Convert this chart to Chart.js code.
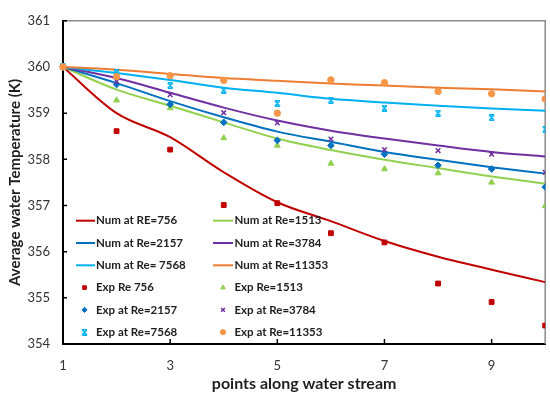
<!DOCTYPE html>
<html>
<head>
<meta charset="utf-8">
<script src="https://cdn.jsdelivr.net/npm/chart.js@4.4.0/dist/chart.umd.min.js"></script>
<style>
    html, body { margin: 0; padding: 0; background: #fff; }
    #wrap { width: 550px; height: 403px; }
</style>
</head>
<body>
<div id="wrap"><canvas id="tempChart" width="550" height="403"></canvas></div>
<script>
// points along the stream
const xPoints = [1, 2, 3, 4, 5, 6, 7, 8, 9, 10];
const xTickValues = [1, 3, 5, 7, 9];
const yTickValues = [354, 355, 356, 357, 358, 359, 360, 361];

// numerical results (K)
const numRe756 = [360, 359.00, 358.48, 357.72, 357.07, 356.66, 356.23, 355.89, 355.61, 355.34];
const numRe1513 = [360, 359.51, 359.16, 358.80, 358.45, 358.20, 357.99, 357.81, 357.63, 357.47];
const numRe2157 = [360, 359.65, 359.26, 358.91, 358.60, 358.38, 358.16, 357.99, 357.83, 357.69];
const numRe3784 = [360, 359.76, 359.44, 359.12, 358.84, 358.62, 358.45, 358.30, 358.16, 358.06];
const numRe7568 = [360, 359.87, 359.72, 359.55, 359.44, 359.31, 359.23, 359.16, 359.10, 359.05];
const numRe11353 = [360, 359.94, 359.85, 359.76, 359.70, 359.64, 359.60, 359.55, 359.52, 359.47];

// experimental results (K)
const expRe756 = [360, 358.61, 358.21, 357.01, 357.05, 356.40, 356.20, 355.31, 354.91, 354.40];
const expRe1513 = [360, 359.28, 359.11, 358.46, 358.30, 357.91, 357.79, 357.70, 357.50, 356.99];
const expRe2157 = [360, 359.62, 359.19, 358.80, 358.41, 358.30, 358.11, 357.87, 357.79, 357.40];
const expRe3784 = [360, 359.69, 359.40, 359.01, 358.79, 358.44, 358.21, 358.19, 358.11, 357.72];
const expRe7568 = [360, 359.87, 359.60, 359.50, 359.21, 359.28, 359.11, 359.00, 358.90, 358.65];
const expRe11353 = [360, 359.79, 359.81, 359.71, 359.00, 359.72, 359.66, 359.47, 359.42, 359.31];

const fontFamily = 'Lato, "Open Sans", sans-serif';

// excel style "x with bars" marker
function barredCross(size, color) {
    const c = document.createElement('canvas');
    c.width = size;
    c.height = size;
    const g = c.getContext('2d');
    g.strokeStyle = color;
    g.lineWidth = 1.4;
    g.beginPath();
    g.moveTo(1, 1); g.lineTo(size - 1, size - 1);
    g.moveTo(size - 1, 1); g.lineTo(1, size - 1);
    g.moveTo(1, 0.7); g.lineTo(size - 1, 0.7);
    g.moveTo(1, size - 0.7); g.lineTo(size - 1, size - 0.7);
    g.stroke();
    return c;
}

function toPoints(values) {
    return xPoints.map((x, i) => ({ x: x, y: values[i] }));
}

function numSeries(label, values, color, idx) {
    return {
        label: label,
        data: toPoints(values),
        borderColor: color,
        backgroundColor: color,
        borderWidth: 2,
        pointRadius: 0,
        showLine: true,
        cubicInterpolationMode: 'monotone',
        order: 40 - idx,
        legendStyle: 'line'
    };
}

function expSeries(label, values, color, style, radius, idx) {
    return {
        label: label,
        data: toPoints(values),
        borderColor: color,
        backgroundColor: color,
        showLine: false,
        pointStyle: style,
        pointRadius: radius,
        pointBorderWidth: style === 'crossRot' ? 1.5 : 1,
        pointHoverRadius: radius,
        clip: { left: 8, top: 8, right: 0, bottom: 8 },
        order: 20 - idx,
        legendStyle: 'point'
    };
}

const datasets = [
    numSeries('Num at RE=756', numRe756, '#C00000', 0),
    numSeries('Num at Re=1513', numRe1513, '#92D050', 1),
    numSeries('Num at Re=2157', numRe2157, '#0070C0', 2),
    numSeries('Num at Re=3784', numRe3784, '#7030A0', 3),
    numSeries('Num at Re= 7568', numRe7568, '#00B0F0', 4),
    numSeries('Num at Re=11353', numRe11353, '#ED7D31', 5),
    expSeries('Exp Re 756', expRe756, '#C00000', 'rect', 3.4, 6),
    expSeries('Exp Re=1513', expRe1513, '#92D050', 'triangle', 3.4, 7),
    expSeries('Exp at Re=2157', expRe2157, '#0070C0', 'rectRot', 3.3, 8),
    expSeries('Exp at Re=3784', expRe3784, '#7030A0', 'crossRot', 3.3, 9),
    expSeries('Exp at Re=7568', expRe7568, '#00B0F0', barredCross(7, '#00B0F0'), 3.5, 10),
    expSeries('Exp at Re=11353', expRe11353, '#F79646', 'circle', 3.2, 11)
];

// frame, inward ticks and the two-column legend
const framePlugin = {
    id: 'frame',
    beforeDatasetsDraw(chart) {
        const ctx = chart.ctx;
        const a = chart.chartArea;
        ctx.save();
        ctx.strokeStyle = '#8c8c8c';
        ctx.lineWidth = 1.5;
        ctx.beginPath();
        ctx.moveTo(a.left, a.top);
        ctx.lineTo(a.right, a.top);
        ctx.lineTo(a.right, a.bottom);
        ctx.stroke();

        ctx.strokeStyle = '#000';
        ctx.lineWidth = 1.5;
        ctx.beginPath();
        xTickValues.forEach(v => {
            if (v === xTickValues[0]) return;
            const px = chart.scales.x.getPixelForValue(v);
            ctx.moveTo(px, a.bottom);
            ctx.lineTo(px, a.bottom - 5);
        });
        yTickValues.forEach(v => {
            const py = chart.scales.y.getPixelForValue(v);
            ctx.moveTo(a.left, py);
            ctx.lineTo(a.left + 4, py);
        });
        ctx.stroke();
        ctx.restore();
    },
    afterDraw(chart) {
        const ctx = chart.ctx;
        const rowY0 = 220.7, rowStep = 22.3;
        const cols = [
            { lineFrom: 76, lineTo: 95, mark: 84.5, text: 96 },
            { lineFrom: 213, lineTo: 233, mark: 223, text: 234.5 }
        ];
        ctx.save();
        ctx.font = 'bold 11.5px ' + fontFamily;
        ctx.textBaseline = 'middle';
        ctx.textAlign = 'left';
        chart.data.datasets.forEach((ds, i) => {
            const col = cols[i % 2];
            const y = rowY0 + Math.floor(i / 2) * rowStep;
            if (ds.legendStyle === 'line') {
                ctx.strokeStyle = ds.borderColor;
                ctx.lineWidth = 2;
                ctx.beginPath();
                ctx.moveTo(col.lineFrom, y);
                ctx.lineTo(col.lineTo, y);
                ctx.stroke();
            } else {
                ctx.fillStyle = ds.backgroundColor;
                ctx.strokeStyle = ds.borderColor;
                ctx.lineWidth = ds.pointBorderWidth;
                Chart.helpers.drawPoint(ctx, {
                    pointStyle: ds.pointStyle,
                    radius: 2.6,
                    rotation: 0,
                    borderWidth: ds.pointBorderWidth
                }, col.mark, y);
            }
            ctx.fillStyle = '#1e1e1e';
            ctx.fillText(ds.label, col.text, y);
        });
        ctx.restore();
    }
};

const ctxTemp = document.getElementById('tempChart').getContext('2d');
new Chart(ctxTemp, {
    type: 'line',
    data: { datasets: datasets },
    plugins: [framePlugin],
    options: {
        responsive: false,
        animation: false,
        devicePixelRatio: 1,
        layout: { padding: { top: 15, right: 1, left: 0, bottom: 0 } },
        plugins: {
            legend: { display: false },
            tooltip: { enabled: false }
        },
        scales: {
            x: {
                type: 'linear',
                min: 1,
                max: 10,
                afterFit: function (scale) { scale.height = 59; },
                afterBuildTicks: function (scale) {
                    scale.ticks = xTickValues.map(v => ({ value: v }));
                },
                grid: { display: false, drawTicks: false },
                border: { display: true, color: '#000', width: 2 },
                ticks: {
                    padding: 14,
                    color: '#333',
                    font: { family: fontFamily, size: 13 },
                    maxRotation: 0
                },
                title: {
                    display: true,
                    text: 'points along water stream',
                    color: '#1e1e1e',
                    font: { family: fontFamily, size: 16, weight: 'bold' },
                    padding: { top: 0, bottom: 10 }
                }
            },
            y: {
                min: 354,
                max: 361,
                afterFit: function (scale) { scale.width = 63; },
                grid: { display: false, drawTicks: false },
                border: { display: true, color: '#000', width: 2 },
                ticks: {
                    stepSize: 1,
                    padding: 13,
                    color: '#333',
                    font: { family: fontFamily, size: 13 }
                },
                title: {
                    display: true,
                    text: 'Average water Temperature (K)',
                    color: '#1e1e1e',
                    font: { family: fontFamily, size: 15, weight: 'bold' },
                    padding: { top: 6, bottom: 0 }
                }
            }
        }
    }
});
</script>
</body>
</html>
